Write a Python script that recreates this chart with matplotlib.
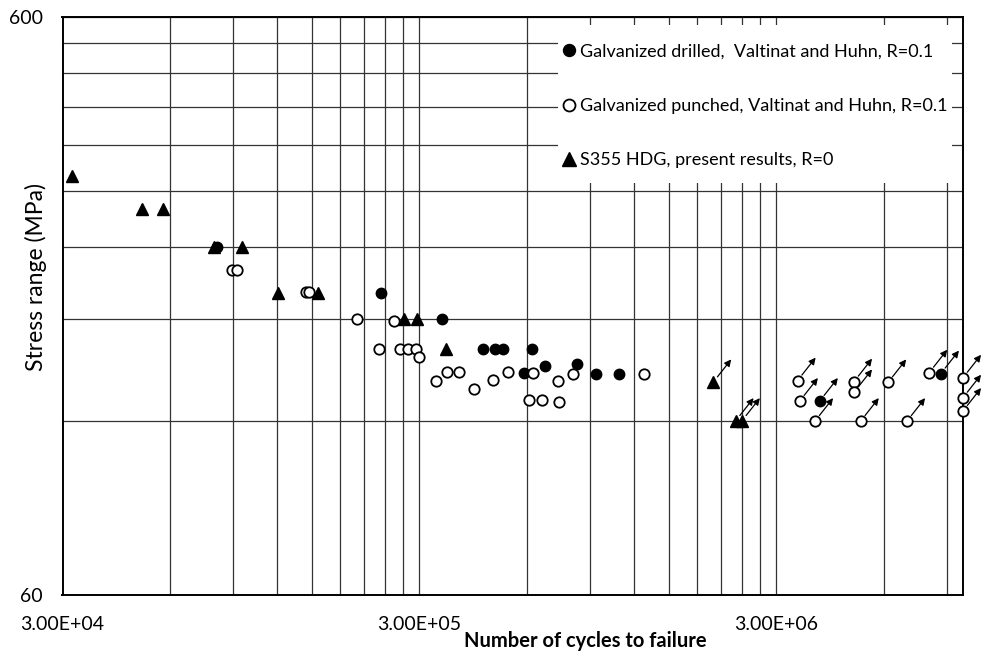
import numpy as np
import matplotlib
matplotlib.use("Agg")
import matplotlib.pyplot as plt
from matplotlib.ticker import FixedLocator, FixedFormatter, NullFormatter
from matplotlib.patches import Rectangle

# failures
drilled_n = [81400, 233600, 346000, 451000, 488000, 514000, 618600, 588700,
             673900, 826800, 936600, 1088000]
drilled_s = [240, 200, 180, 160, 160, 160, 160, 145.5, 149.4, 150.6, 144.7, 145]

punched_n = [89300, 92300, 144700, 147600, 201000, 254900, 231000, 264600,
             279000, 293300, 299000, 333900, 357600, 387000, 426300, 482700,
             529800, 625200, 731400, 809100, 1277000, 609000, 660000, 739200]
punched_s = [219, 219, 201, 201, 180, 179, 160, 160, 160, 160, 155, 140.7,
             146, 146, 136.2, 141.3, 146, 145.5, 141, 145, 145, 130.3, 130.3, 129.6]

hdg_n = [31900, 50200, 57500, 79800, 95300, 120700, 156000, 271000, 296000, 355000]
hdg_s = [319, 279, 279, 240, 240, 200, 200, 180, 180, 160]

# run-outs (drawn with arrows)
drilled_ro_n = [3.97e6, 8.67e6]
drilled_ro_s = [130, 145]
punched_ro_n = [3.44e6, 3.49e6, 3.85e6, 4.95e6, 4.95e6, 5.17e6, 6.17e6,
                6.97e6, 8.04e6, 1.0e7, 1.0e7, 1.0e7]
punched_ro_s = [141, 130, 120, 140.4, 134.5, 120, 140, 120, 145.5, 142.6, 131.7, 124.9]
hdg_ro_n = [1.995e6, 2.305e6, 2.40e6]
hdg_ro_s = [140, 120, 120]

labels = ["Galvanized drilled,  Valtinat and Huhn, R=0.1",
          "Galvanized punched, Valtinat and Huhn, R=0.1",
          "S355 HDG, present results, R=0"]

x_major = [3e4, 3e5, 3e6]
x_ticklabels = ["3.00E+04", "3.00E+05", "3.00E+06"]
y_major = [60, 600]
y_ticklabels = ["60", "600"]

plt.rcParams['font.family'] = ['Lato', 'DejaVu Sans']

fig = plt.figure(figsize=(9.83, 6.52), dpi=100)
ax = fig.add_axes([62.5/983, 57/652, 900.5/983, 578/652])
ax.set_xscale('log')
ax.set_yscale('log')
ax.set_xlim(3e4, 1e7)
ax.set_ylim(60, 600)

# excel style grid: lines at every multiple of the axis minimum
x_minor = np.concatenate([3e4*np.arange(2, 10), 3e5*np.arange(2, 10), 3e6*np.arange(2, 4)])
y_minor = 60*np.arange(2, 10)
ax.xaxis.set_major_locator(FixedLocator(x_major))
ax.xaxis.set_major_formatter(FixedFormatter(x_ticklabels))
ax.xaxis.set_minor_locator(FixedLocator(x_minor))
ax.xaxis.set_minor_formatter(NullFormatter())
ax.yaxis.set_major_locator(FixedLocator(y_major))
ax.yaxis.set_major_formatter(FixedFormatter(y_ticklabels))
ax.yaxis.set_minor_locator(FixedLocator(y_minor))
ax.yaxis.set_minor_formatter(NullFormatter())
ax.grid(True, which='both', color='#333333', lw=0.9)
ax.set_axisbelow(True)
ax.tick_params(which='both', length=0)
ax.tick_params(axis='x', pad=15, labelsize=14)
ax.tick_params(axis='y', pad=14, labelsize=14)
for sp in ax.spines.values():
    sp.set_linewidth(1.4)

# white box behind the legend
ax.add_patch(Rectangle((0.550, 0.713), 0.438, 0.273, transform=ax.transAxes,
                       facecolor='white', edgecolor='none', zorder=1))

kw = dict(ls='none', clip_on=False, zorder=4)
h1, = ax.plot(drilled_n + drilled_ro_n, drilled_s + drilled_ro_s, marker='o',
              ms=7.5, mfc='black', mec='black', **kw)
h2, = ax.plot(punched_n + punched_ro_n, punched_s + punched_ro_s, marker='o',
              ms=7.5, mfc='white', mec='black', mew=1.3, **kw)
h3, = ax.plot(hdg_n + hdg_ro_n, hdg_s + hdg_ro_s, marker='^', ms=8.5,
              mfc='black', mec='black', **kw)

for n, s in zip(drilled_ro_n + punched_ro_n + hdg_ro_n,
                drilled_ro_s + punched_ro_s + hdg_ro_s):
    ax.annotate('', xy=(n, s), xytext=(13, 16.5), textcoords='offset points',
                annotation_clip=False, zorder=5,
                arrowprops=dict(arrowstyle='<|-', color='black', lw=0.9,
                                shrinkA=0, shrinkB=5, mutation_scale=10))

ax.legend([h1, h2, h3], labels, loc='upper left', bbox_to_anchor=(0.556, 0.954),
          frameon=False, fontsize=13, handlelength=0.6, handletextpad=0.35,
          labelspacing=2.12, borderaxespad=0, borderpad=0, markerscale=1.15)

fig.text(36/983, 1 - 277/652, "Stress range (MPa)", rotation=90, ha='center',
         va='center', fontsize=16.5)
fig.text(585/983, 1 - 641/652, "Number of cycles to failure", ha='center',
         va='center', fontsize=14.5, fontweight='bold')

fig.savefig("out.png", dpi=100)
